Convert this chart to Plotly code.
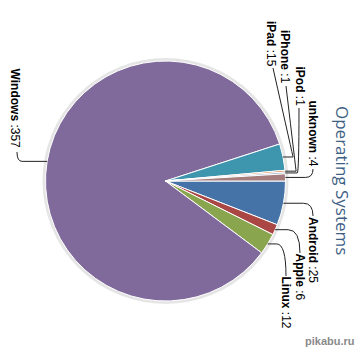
import math
import plotly.graph_objects as go

# ---- data ----
names = ["Android", "Apple", "Linux", "Windows", "iPad", "iPhone", "iPod", "unknown"]
values = [25, 6, 12, 357, 15, 1, 1, 4]
colors = ["#4572A7", "#AA4643", "#89A54E", "#80699B", "#3D96AE", "#DB843D", "#92A8CD", "#A47D7C"]
title_text = "Operating Systems"

# ---- layout / styling (pixels) ----
W, H = 357, 356
CX, CY, R = 165.5, 181.0, 120.0
# label text centre, connector end on label, knee offset (horizontal) from pie edge
label_pos = {
    "Windows": ((15, 108.5), (17, 152), -25),
    "iPad":    ((271, 44),   (273, 68), 10),
    "iPhone":  ((285, 57),   (286, 86), 11),
    "iPod":    ((299, 86.5), (299, 108), 12),
    "unknown": ((313, 133.5), (313, 169), 20),
    "Android": ((313, 250),  (313, 216), 20),
    "Apple":   ((300, 276.5), (300, 253), 13),
    "Linux":   ((286, 302.5), (286, 276), 9),
}
label_font = dict(family="Liberation Sans, Arial, sans-serif", size=12, color="#000000")


def px(x):
    return x / W


def py(y):
    return 1 - y / H


fig = go.Figure()
fig.add_trace(go.Pie(
    labels=names, values=values, sort=False, direction="clockwise", rotation=90,
    marker=dict(colors=colors, line=dict(color="#FFFFFF", width=1)),
    textinfo="none", hoverinfo="label+value", showlegend=False,
    domain=dict(x=[px(CX - R), px(CX + R)], y=[py(CY + R), py(CY - R)]),
))

shapes = []
# soft shadow ring
shapes.append(dict(type="circle", xref="paper", yref="paper", layer="below",
                   x0=px(CX - R - 1.5), x1=px(CX + R + 1.5), y0=py(CY + R + 1.5), y1=py(CY - R - 1.5),
                   line=dict(color="rgba(0,0,0,0.10)", width=3), fillcolor="rgba(0,0,0,0)"))

annotations = []
total = float(sum(values))
cum = 0.0
for n, v in zip(names, values):
    mid = (cum + v / 2.0) / total * 360.0
    cum += v
    th = math.radians(mid)
    ex, ey = CX + R * math.cos(th), CY + R * math.sin(th)
    (tx, ty), (lx, ly), kdx = label_pos[n]
    kx, ky = ex + kdx, ey
    if (lx - kx) * (1 if kdx > 0 else -1) > 0:
        cxp, cyp = lx, ky
    else:
        cxp, cyp = kx, ky
    path = "M {:.4f},{:.4f} L {:.4f},{:.4f} Q {:.4f},{:.4f} {:.4f},{:.4f}".format(
        px(ex), py(ey), px(kx), py(ky), px(cxp), py(cyp), px(lx), py(ly))
    shapes.append(dict(type="path", xref="paper", yref="paper", path=path,
                       line=dict(color="#222222", width=1)))
    annotations.append(dict(xref="paper", yref="paper", x=px(tx), y=py(ty),
                            text="<b>{}</b> :{}".format(n, v), textangle=90,
                            showarrow=False, xanchor="center", yanchor="middle",
                            font=label_font))

annotations.append(dict(xref="paper", yref="paper", x=px(343), y=py(180),
                        text=title_text, textangle=90, showarrow=False,
                        xanchor="center", yanchor="middle",
                        font=dict(family="Open Sans, Arial, sans-serif", size=17, color="#3E5F85")))
annotations.append(dict(xref="paper", yref="paper", x=px(330), y=py(341),
                        text="<b>pikabu.ru</b>", showarrow=False,
                        xanchor="center", yanchor="middle",
                        font=dict(family="Liberation Sans, Arial, sans-serif", size=11, color="#8A8A8A")))

fig.update_layout(width=W, height=H, margin=dict(l=0, r=0, t=0, b=0),
                  paper_bgcolor="#FFFFFF", plot_bgcolor="#FFFFFF",
                  shapes=shapes, annotations=annotations)

fig.write_html("out.html")
